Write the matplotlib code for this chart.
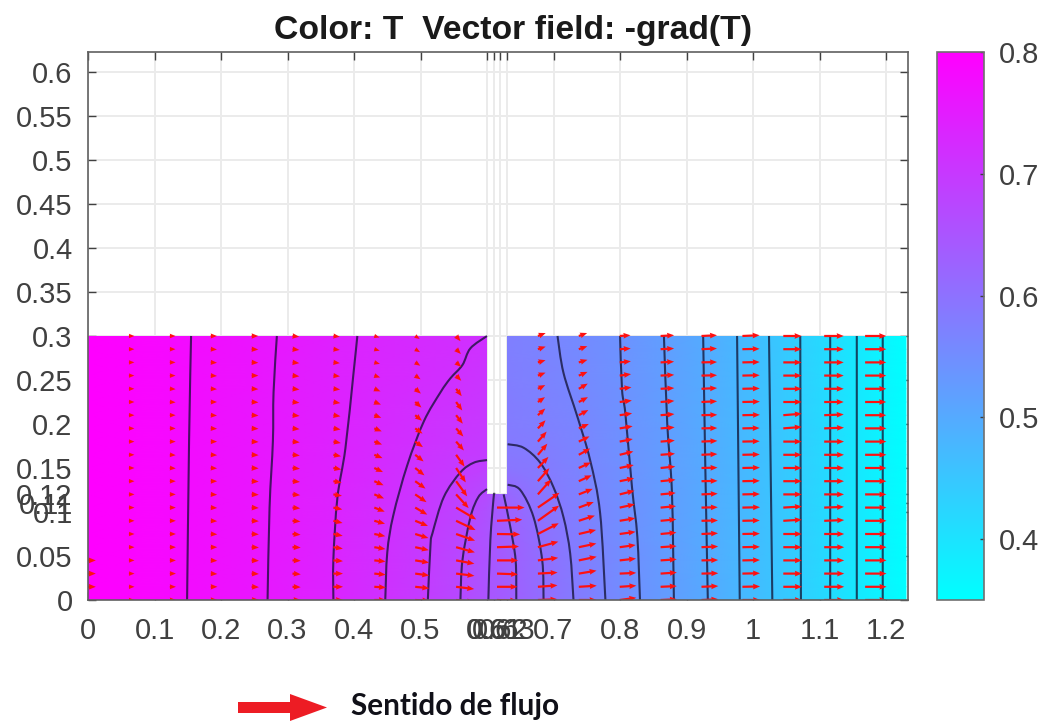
import numpy as np
import matplotlib
matplotlib.use('Agg')
import matplotlib.pyplot as plt
from matplotlib.patches import FancyArrow, PathPatch, Polygon
from matplotlib.path import Path
from matplotlib.transforms import IdentityTransform

plt.rcParams['font.family'] = ['Liberation Sans', 'DejaVu Sans']

# ticks
x_ticks = [0, 0.1, 0.2, 0.3, 0.4, 0.5, 0.6, 0.61, 0.62, 0.63, 0.7, 0.8, 0.9, 1, 1.1, 1.2]
y_ticks = [0, 0.05, 0.1, 0.11, 0.12, 0.15, 0.2, 0.25, 0.3, 0.35, 0.4, 0.45, 0.5, 0.55, 0.6]
cbar_ticks = [0.4, 0.5, 0.6, 0.7, 0.8]

# solution: contour number at each node, one list per column (y=0 first)
col_00 = [0.0] * 21
col_01 = [0.4] * 21
col_02 = [0.82] * 11 + [0.81] * 5 + [0.80] * 5
col_03 = [1.30,1.30,1.30,1.29,1.29,1.29,1.28,1.28,1.27,1.27,1.27,1.26,1.26,1.26,1.25,1.25,1.25,1.24,1.24,1.23,1.23]
col_04 = [1.80,1.80,1.79,1.79,1.78,1.78,1.77,1.77,1.76,1.76,1.75,1.75,1.74,1.74,1.73,1.73,1.72,1.72,1.72,1.71,1.71]
col_05 = [2.38,2.38,2.37,2.36,2.36,2.35,2.34,2.33,2.32,2.31,2.30,2.29,2.28,2.27,2.26,2.25,2.24,2.23,2.22,2.21,2.20]
col_06 = [3.00,3.00,3.00,3.00,2.98,2.96,2.93,2.90,2.88,2.86,2.84,2.82,2.80,2.78,2.77,2.75,2.74,2.73,2.72,2.71,2.70]
col_07 = [3.79,3.79,3.77,3.76,3.74,3.71,3.68,3.63,3.57,3.52,3.46,3.41,3.37,3.33,3.29,3.26,3.22,3.19,3.17,3.15,3.13]
col_08 = [4.71,4.70,4.67,4.65,4.61,4.57,4.50,4.43,4.31,4.22,4.11,4.02,3.93,3.87,3.79,3.72,3.64,3.59,3.54,3.50,3.46]
col_09 = [5.88,5.85,5.82,5.79,5.73,5.65,5.55,5.40,5.23,5.03,4.82,4.64,4.50,4.40,4.28,4.17,4.05,3.97,3.91,3.85,3.78]
wall_left = [6.96,6.96,6.93,6.89,6.88,6.83,6.76,6.63,6.15,5.80,5.30,4.95,4.85,4.75,4.65,4.55,4.45,4.35,4.25,4.12,4.00]
col_10 = [7.36,7.35,7.36,7.33,7.36,7.35,7.35,7.38,7.40,7.40,7.40,7.40,7.40,7.40,7.40,7.40,7.40,7.40,7.40,7.40,7.40]
wall_right = [7.68,7.69,7.72,7.71,7.77,7.80,7.88,8.00,8.40,9.00,9.60,9.85,10.02,10.10,10.18,10.25,10.30,10.35,10.38,10.42,10.45]
col_11 = [8.85,8.86,8.89,8.89,8.96,9.04,9.25,9.45,9.65,9.85,10.00,10.15,10.30,10.42,10.52,10.60,10.65,10.70,10.73,10.76,10.80]
col_12 = [10.22,10.22,10.25,10.30,10.35,10.40,10.46,10.54,10.61,10.69,10.77,10.84,10.94,10.98,11.06,11.12,11.19,11.26,11.29,11.33,11.37]
col_13 = [11.46,11.49,11.49,11.51,11.54,11.57,11.60,11.64,11.69,11.74,11.77,11.82,11.86,11.89,11.92,11.94,11.96,11.98,12.00,12.01,12.02]
col_14 = [12.65,12.66,12.67,12.69,12.70,12.72,12.74,12.76,12.78,12.80,12.82,12.84,12.85,12.87,12.88,12.90,12.91,12.92,12.93,12.94,12.95]
col_15 = [13.85,13.86,13.87,13.87,13.88,13.89,13.90,13.90,13.91,13.92,13.92,13.93,13.94,13.95,13.95,13.96,13.97,13.98,13.98,13.99,14.00]
col_16 = [15.12,15.12,15.13,15.13,15.14,15.14,15.15,15.15,15.16,15.16,15.17,15.17,15.18,15.18,15.19,15.19,15.20,15.20,15.21,15.21,15.22]
col_17 = [16.45] * 7 + [16.48] * 7 + [16.52] * 7
col_18 = [17.86] * 7 + [17.88] * 7 + [17.90] * 7
col_19 = [19.38] * 21
col_20 = [21.0] * 21

T_top = 0.8
T_step = 0.45 / 21

# traced contour lines, left to right: (x values, y values)
contour_lines = [
    ([0.149, 0.152, 0.155], [0, 0.182, 0.3]),
    ([0.270, 0.273, 0.278, 0.279, 0.284], [0, 0.105, 0.180, 0.236, 0.3]),
    ([0.369, 0.369, 0.375, 0.387, 0.399, 0.405], [0, 0.047, 0.116, 0.172, 0.256, 0.3]),
    ([0.447, 0.450, 0.459, 0.480, 0.505, 0.530, 0.545, 0.563, 0.575, 0.600],
     [0, 0.054, 0.096, 0.153, 0.203, 0.236, 0.252, 0.267, 0.286, 0.3]),
    ([0.511, 0.515, 0.518, 0.535, 0.560, 0.580, 0.600], [0, 0.0625, 0.076, 0.117, 0.145, 0.156, 0.159]),
    ([0.560, 0.563, 0.575, 0.587, 0.600], [0, 0.045, 0.094, 0.117, 0.126]),
    ([0.602, 0.605, 0.610, 0.611], [0, 0.068, 0.117, 0.12]),
    ([0.644, 0.643, 0.635, 0.625], [0, 0.045, 0.083, 0.12]),
    ([0.685, 0.683, 0.670, 0.650, 0.631], [0, 0.045, 0.094, 0.125, 0.131]),
    ([0.730, 0.725, 0.715, 0.700, 0.680, 0.655, 0.631], [0, 0.053, 0.094, 0.128, 0.156, 0.173, 0.177]),
    ([0.778, 0.770, 0.755, 0.736, 0.715, 0.706], [0, 0.099, 0.159, 0.208, 0.258, 0.3]),
    ([0.830, 0.826, 0.818, 0.808, 0.803, 0.800], [0, 0.072, 0.128, 0.212, 0.239, 0.3]),
    ([0.881, 0.878, 0.871, 0.866], [0, 0.123, 0.2, 0.3]),
    ([0.932, 0.928, 0.925], [0, 0.161, 0.3]),
    ([0.980, 0.976], [0, 0.3]),
    ([1.029, 1.024], [0, 0.3]),
    ([1.072, 1.071], [0, 0.3]),
    ([1.116, 1.116], [0, 0.3]),
    ([1.156, 1.156], [0, 0.3]),
    ([1.195, 1.195], [0, 0.3]),
]


def node_field():
    cols = [col_00, col_01, col_02, col_03, col_04, col_05, col_06, col_07, col_08, col_09, col_10,
            col_11, col_12, col_13, col_14, col_15, col_16, col_17, col_18, col_19, col_20]
    return T_top - np.array(cols).T * T_step


def draw_field(ax, xg, yg, T):
    # wall columns keep the jump across the slot, the slot itself gets clipped away
    wl = T_top - np.array(wall_left) * T_step
    wr = T_top - np.array(wall_right) * T_step
    xm = np.concatenate([xg[:10], [0.6, xg[10], 0.63], xg[11:]])
    Tm = np.column_stack([T[:, :10], wl, T[:, 10], wr, T[:, 11:]])
    mesh = ax.pcolormesh(xm, yg, Tm, shading='gouraud', cmap='cool', vmin=0.35, vmax=0.8, zorder=2)
    domain = Polygon([(0, 0), (1.24, 0), (1.24, 0.3), (0.63, 0.3), (0.63, 0.12), (0.6, 0.12), (0.6, 0.3), (0, 0.3)],
                     transform=ax.transData)
    mesh.set_clip_path(domain)
    return mesh


def draw_contour(ax, xs, ys):
    # bezier through the traced points so the arcs do not look like polygons
    p = np.column_stack([xs, ys])
    verts = [p[0]]
    codes = [Path.MOVETO]
    for i in range(len(p) - 1):
        before = p[max(i - 1, 0)]
        after = p[min(i + 2, len(p) - 1)]
        verts += [p[i] + (p[i + 1] - before) / 6, p[i + 1] - (after - p[i]) / 6, p[i + 1]]
        codes += [Path.CURVE4] * 3
    ax.add_patch(PathPatch(Path(verts, codes), fill=False, edgecolor='#101030', lw=1.5, alpha=0.75, zorder=3))


def draw_arrows(ax, xg, yg, T):
    dx = xg[1] - xg[0]
    dTy, dTx = np.gradient(T, yg, xg)
    # no difference across the slot
    dTx[8:, 9] = (T[8:, 9] - T[8:, 8]) / dx
    dTx[8:, 11] = (T[8:, 12] - T[8:, 11]) / dx
    dTy[7, 10] = 0
    X, Y = np.meshgrid(xg, yg)
    hide = np.zeros(T.shape, dtype=bool)
    hide[8:, 10] = True
    hide[:, 20] = True
    hide[:, 0] = True
    hide[1:4, 0] = False
    dTx[1:4, 0] = -0.2
    ax.quiver(X[~hide], Y[~hide], -dTx[~hide], -dTy[~hide], color='#ff1010', angles='xy', scale_units='xy',
              scale=17, units='dots', width=2.2, headwidth=2.6, headlength=3.2, headaxislength=3,
              minlength=0, zorder=4, clip_on=True)


def main():
    fig = plt.figure(figsize=(10.5, 7.24), dpi=100)
    ax = fig.add_axes([88 / 1050, 1 - 600 / 724, 820 / 1050, 548 / 724])
    xg = np.arange(21) * 0.0615
    yg = np.arange(21) * 0.015
    T = node_field()

    mesh = draw_field(ax, xg, yg, T)
    for xs, ys in contour_lines:
        draw_contour(ax, xs, ys)
    draw_arrows(ax, xg, yg, T)

    ax.set_xlim(0, 1.233)
    ax.set_ylim(0, 0.6227)
    ax.set_xticks(x_ticks)
    ax.set_xticklabels(['%g' % v for v in x_ticks])
    ax.set_yticks(y_ticks)
    ax.set_yticklabels(['%g' % v for v in y_ticks])
    ax.set_axisbelow(True)
    ax.grid(True, color='#ebebeb', lw=1.4)
    ax.tick_params(direction='in', top=True, right=True, length=6, width=1, color='#404040',
                   labelsize=21, labelcolor='#404040')
    ax.tick_params(axis='x', pad=12)
    ax.tick_params(axis='y', pad=11)
    for s in ax.spines.values():
        s.set_color('#606060')
        s.set_linewidth(1.2)
        s.set_zorder(6)

    cax = fig.add_axes([937 / 1050, 1 - 600 / 724, 47 / 1050, 548 / 724])
    cb = fig.colorbar(mesh, cax=cax, ticks=cbar_ticks)
    cb.ax.set_yticklabels(['%g' % v for v in cbar_ticks])
    cb.ax.tick_params(direction='in', length=3, width=1, color='#404040', labelsize=21, labelcolor='#404040', pad=11)
    cb.outline.set_edgecolor('#707070')
    cb.outline.set_linewidth(1.2)

    fig.text(513 / 1050, 1 - 30 / 724, 'Color: T  Vector field: -grad(T)', ha='center', va='center',
             fontsize=24.3, fontweight='bold', color='#1a1a1a')

    fig.add_artist(FancyArrow(238, 724 - 707.5, 89, 0, width=11, head_width=27, head_length=37,
                              length_includes_head=True, color='#ed1c24', lw=0, transform=IdentityTransform()))
    fig.text(351 / 1050, 1 - 706 / 724, 'Sentido de flujo', ha='left', va='center', fontsize=21.4,
             fontweight='bold', family=['Lato', 'DejaVu Sans'], color='#101018')

    fig.savefig('out.png', dpi=100)


if __name__ == "__main__":
    main()
